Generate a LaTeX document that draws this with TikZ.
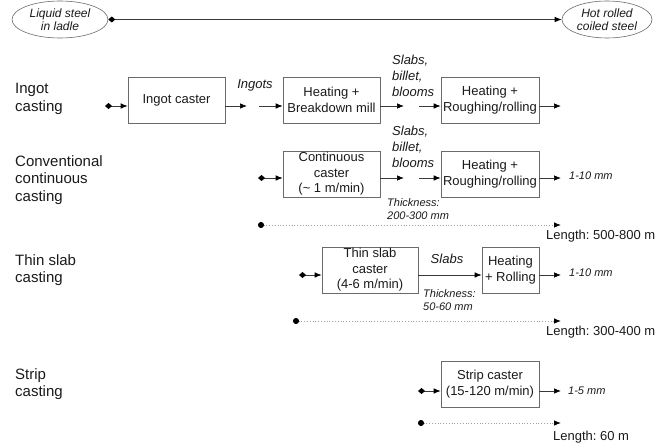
\documentclass[tikz,border=0pt]{standalone}
\usepackage{fontspec}
\setmainfont{Liberation Sans}
\usetikzlibrary{arrows.meta,shapes.geometric}
\definecolor{txt}{HTML}{1A1A1A}
\definecolor{ln}{HTML}{3A3A3A}
\definecolor{bx}{HTML}{6A6A6A}
\definecolor{dl}{HTML}{A0A0A0}
\tikzset{
  stagebox/.style={draw=bx,line width=0.7pt,align=center,inner sep=0pt,text=txt,
    font=\fontsize{13}{15.5}\selectfont,minimum height=46pt},
  endell/.style={ellipse,draw=bx,line width=0.6pt,align=center,inner sep=0pt,text=txt,
    font=\fontsize{12}{13.5}\selectfont\itshape,minimum height=37pt},
  rowlabel/.style={anchor=west,align=left,inner sep=0pt,text=txt,
    font=\fontsize{15}{17.5}\selectfont},
  prodlabel/.style={anchor=west,align=left,inner sep=0pt,text=txt,
    font=\fontsize{13}{16}\selectfont\itshape},
  smalllabel/.style={anchor=west,align=left,inner sep=0pt,text=txt,
    font=\fontsize{11}{13.5}\selectfont\itshape},
  lenlabel/.style={anchor=west,inner sep=0pt,text=txt,font=\fontsize{13}{15}\selectfont},
  tip/.style={-{Latex[length=7pt,width=5.5pt,color=black]}},
  flow/.style={draw=ln,line width=0.7pt,tip},
  startflow/.style={draw=ln,line width=0.7pt,{Diamond[length=7pt,width=6pt,color=black]}-{Latex[length=7pt,width=5.5pt,color=black]}},
  lenline/.style={draw=dl,line width=0.8pt,dotted,{Circle[length=6pt,color=black]}-{Latex[length=7pt,width=5.5pt,color=black]}},
}
\begin{document}
\frenchspacing
\begin{tikzpicture}[x=1pt,y=-1pt]
\useasboundingbox (0,0) rectangle (659,444);
% top line
\node[endell,minimum width=96pt] (liq) at (60,19.5) {Liquid steel\\in ladle};
\node[endell,minimum width=90pt] (hot) at (607,19.5) {Hot rolled\\coiled steel};
\draw[startflow] (liq.east) -- (hot.west);

% row labels
\node[rowlabel] (r1) at (15,99) {Ingot\\casting};
\node[rowlabel] (r2) at (15,180) {Conventional\\continuous\\casting};
\node[rowlabel] (r3) at (15,270) {Thin slab\\casting};
\node[rowlabel] (r4) at (15,384) {Strip\\casting};

% ---- row 1: ingot casting
\node[stagebox,minimum width=97pt] (ic) at (176.5,100) {Ingot caster};
\node[stagebox,minimum width=97pt] (bm) at (331.5,100) {Heating +\\Breakdown mill};
\node[stagebox,minimum width=98pt] (rr1) at (490,100) {Heating +\\Roughing/rolling};
\coordinate (s1) at (105,106);
\coordinate (m1a) at (247,106);
\coordinate (m1b) at (259,106);
\coordinate (m1c) at (404,106);
\coordinate (m1d) at (419,106);
\coordinate (e1) at (561,106);
\draw[startflow] (s1) -- (ic.west |- s1);
\draw[flow] (ic.east |- s1) -- (m1a);
\draw[flow] (m1b) -- (bm.west |- s1);
\draw[flow] (bm.east |- s1) -- (m1c);
\draw[flow] (m1d) -- (rr1.west |- s1);
\draw[flow] (rr1.east |- s1) -- (e1);
\node[prodlabel,anchor=center] (ingots) at (255,85) {Ingots};
\node[prodlabel] (sbb1) at (392,76) {Slabs,\\billet,\\blooms};

% ---- row 2: conventional continuous casting
\node[stagebox,minimum width=97pt] (cc) at (331.5,174) {Continuous\\caster\\(\textasciitilde{} 1 m/min)};
\node[stagebox,minimum width=98pt] (rr2) at (490,174) {Heating +\\Roughing/rolling};
\coordinate (s2) at (258,178);
\coordinate (m2c) at (404,178);
\coordinate (m2d) at (419,178);
\coordinate (e2) at (561,178);
\draw[startflow] (s2) -- (cc.west |- s2);
\draw[flow] (cc.east |- s2) -- (m2c);
\draw[flow] (m2d) -- (rr2.west |- s2);
\draw[flow] (rr2.east |- s2) -- (e2);
\node[prodlabel] (sbb2) at (392,147) {Slabs,\\billet,\\blooms};
\node[smalllabel] (th2) at (387,209) {Thickness:\\200-300 mm};
\node[smalllabel] (o2) at (569,176) {1-10 mm};
\coordinate (l2a) at (258,225);
\coordinate (l2b) at (561,225);
\draw[lenline] (l2a) -- (l2b);
\node[lenlabel] (len2) at (546,236) {Length: 500-800 m};

% ---- row 3: thin slab casting
\node[stagebox,minimum width=96pt] (tc) at (370,270) {Thin slab\\caster\\(4-6 m/min)};
\node[stagebox,minimum width=57pt] (hr) at (510.5,270) {Heating\\+ Rolling};
\coordinate (s3) at (299,275);
\coordinate (e3) at (561,275);
\draw[startflow] (s3) -- (tc.west |- s3);
\draw[flow] (tc.east |- s3) -- (hr.west |- s3);
\draw[flow] (hr.east |- s3) -- (e3);
\node[prodlabel,anchor=center] (slabs3) at (447,259) {Slabs};
\node[smalllabel] (th3) at (423,300) {Thickness:\\50-60 mm};
\node[smalllabel] (o3) at (569,273) {1-10 mm};
\coordinate (l3a) at (293,321);
\coordinate (l3b) at (561,321);
\draw[lenline] (l3a) -- (l3b);
\node[lenlabel] (len3) at (546,332) {Length: 300-400 m};

% ---- row 4: strip casting
\node[stagebox,minimum width=98pt] (sc) at (490,384) {Strip caster\\(15-120 m/min)};
\coordinate (s4) at (418,391);
\coordinate (e4) at (561,391);
\draw[startflow] (s4) -- (sc.west |- s4);
\draw[flow] (sc.east |- s4) -- (e4);
\node[smalllabel] (o4) at (568,391) {1-5 mm};
\coordinate (l4a) at (418,423);
\coordinate (l4b) at (561,423);
\draw[lenline] (l4a) -- (l4b);
\node[lenlabel] (len4) at (553,437) {Length: 60 m};
\end{tikzpicture}
\end{document}
